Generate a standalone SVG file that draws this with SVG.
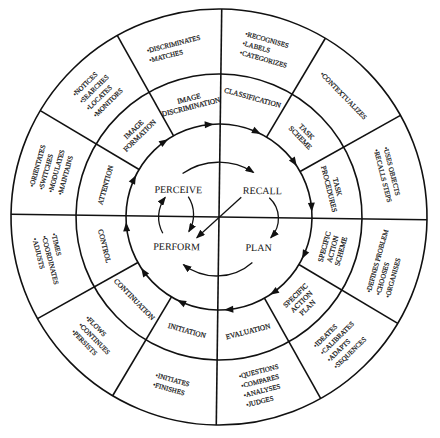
<svg xmlns="http://www.w3.org/2000/svg" width="440" height="438" viewBox="0 0 440 438">
<style>
.ln{stroke:#111;stroke-width:1.6;fill:none}
.th{stroke:#111;stroke-width:1.3;fill:none}
.ah{fill:#111;stroke:none}
text{font-family:"Liberation Serif","DejaVu Serif",serif;fill:#111}
.m{font-size:7.3px;text-anchor:middle;stroke:#111;stroke-width:0.2}
.o{font-size:6.9px;stroke:#111;stroke-width:0.2}
.oc{font-size:6.9px;text-anchor:middle;stroke:#111;stroke-width:0.2}
.c{font-size:10px;text-anchor:middle}
</style>
<defs>
<marker id="arr" markerUnits="userSpaceOnUse" markerWidth="9" markerHeight="7" refX="8" refY="3.5" orient="auto">
<path d="M0,0 L9,3.5 L0,7 z" fill="#111"/>
</marker>
<path id="ah" d="M219,124 l-9,-3.5 l0,7 z"/>
</defs>
<rect width="440" height="438" fill="#fff"/>
<g transform="rotate(0.75 219 217)">
<g id="connectors">
<circle class="ln" cx="219" cy="217" r="208"/>
<circle class="ln" cx="219" cy="217" r="143"/>
<circle class="ln" cx="219" cy="217" r="93"/>
<line class="ln" x1="219" y1="9" x2="219" y2="425"/>
<line class="ln" x1="11" y1="217" x2="427" y2="217"/>
<line class="ln" x1="265.5" y1="136.5" x2="323" y2="36.9"/>
<line class="ln" x1="299.5" y1="170.5" x2="399.1" y2="113"/>
<line class="ln" x1="299.5" y1="263.5" x2="399.1" y2="321"/>
<line class="ln" x1="265.5" y1="297.5" x2="323" y2="397.1"/>
<line class="ln" x1="172.5" y1="297.5" x2="115" y2="397.1"/>
<line class="ln" x1="138.5" y1="263.5" x2="38.9" y2="321"/>
<line class="ln" x1="138.5" y1="170.5" x2="38.9" y2="113"/>
<line class="ln" x1="172.5" y1="136.5" x2="115" y2="36.9"/>
<use href="#ah" class="ah" transform="rotate(-4 219 217)"/>
<use href="#ah" class="ah" transform="rotate(26 219 217)"/>
<use href="#ah" class="ah" transform="rotate(56 219 217)"/>
<use href="#ah" class="ah" transform="rotate(86 219 217)"/>
<use href="#ah" class="ah" transform="rotate(116 219 217)"/>
<use href="#ah" class="ah" transform="rotate(146 219 217)"/>
<use href="#ah" class="ah" transform="rotate(176 219 217)"/>
<use href="#ah" class="ah" transform="rotate(206 219 217)"/>
<use href="#ah" class="ah" transform="rotate(236 219 217)"/>
<use href="#ah" class="ah" transform="rotate(266 219 217)"/>
<use href="#ah" class="ah" transform="rotate(296 219 217)"/>
<use href="#ah" class="ah" transform="rotate(326 219 217)"/>
<path class="th" d="M182,174 A64,64 0 0 1 253,172" marker-end="url(#arr)"/>
<path class="th" d="M269,197 A28,28 0 0 1 271,237" marker-end="url(#arr)"/>
<path class="th" d="M253,262 A54,54 0 0 1 184,265" marker-end="url(#arr)"/>
<path class="th" d="M188,197 A33,33 0 0 1 189,232" marker-end="url(#arr)"/>
<path class="th" d="M163,234 A33,33 0 0 1 165,198" marker-end="url(#arr)"/>
<path class="th" d="M241,197 L197,238" marker-end="url(#arr)"/>
</g>
<g id="perceive"><text class="c" x="178" y="193.5">PERCEIVE</text></g>
<g id="recall"><text class="c" x="262" y="193.5">RECALL</text></g>
<g id="perform"><text class="c" x="177" y="250.5">PERFORM</text></g>
<g id="plan"><text class="c" x="259" y="250.5">PLAN</text></g>

<g id="image-discrimination" transform="rotate(-15 219 217)"><text class="m" x="219" y="97.2">IMAGE</text><text class="m" x="219" y="105.8">DISCRIMINATION</text></g>
<g id="classification" transform="rotate(15 219 217)"><text class="m" x="219" y="95.5">CLASSIFICATION</text></g>
<g id="task-scheme" transform="rotate(45 219 217)"><text class="m" x="219" y="97.2">TASK</text><text class="m" x="219" y="105.8">SCHEME</text></g>
<g id="task-procedures" transform="rotate(75 219 217)"><text class="m" x="219" y="97.2">TASK</text><text class="m" x="219" y="105.8">PROCEDURES</text></g>
<g id="specific-action-scheme" transform="rotate(-75 219 217)"><text class="m" x="219" y="328.9">SPECIFIC</text><text class="m" x="219" y="337.5">ACTION</text><text class="m" x="219" y="346.1">SCHEME</text></g>
<g id="specific-action-plan" transform="rotate(-45 219 217)"><text class="m" x="219" y="328.9">SPECIFIC</text><text class="m" x="219" y="337.5">ACTION</text><text class="m" x="219" y="346.1">PLAN</text></g>
<g id="evaluation" transform="rotate(-15 219 217)"><text class="m" x="219" y="337.5">EVALUATION</text></g>
<g id="initiation" transform="rotate(15 219 217)"><text class="m" x="219" y="337.5">INITIATION</text></g>
<g id="continuation" transform="rotate(45 219 217)"><text class="m" x="219" y="337.5">CONTINUATION</text></g>
<g id="control" transform="rotate(75 219 217)"><text class="m" x="219" y="337.5">CONTROL</text></g>
<g id="attention" transform="rotate(-75 219 217)"><text class="m" x="219" y="101.5">ATTENTION</text></g>
<g id="image-formation" transform="rotate(-45 219 217)"><text class="m" x="219" y="97.2">IMAGE</text><text class="m" x="219" y="105.8">FORMATION</text></g>

<g id="discriminates" transform="rotate(-15 219 217)"><text class="o" x="190" y="40.5">•DISCRIMINATES</text><text class="o" x="190" y="50.3">•MATCHES</text></g>
<g id="recognises" transform="rotate(15 219 217)"><text class="o" x="194.5" y="35.6">•RECOGNISES</text><text class="o" x="194.5" y="45.4">•LABELS</text><text class="o" x="194.5" y="55.2">•CATEGORIZES</text></g>
<g id="contextualizes" transform="rotate(45 219 217)"><text class="oc" x="219" y="45.4">•CONTEXTUALIZES</text></g>
<g id="uses-objects" transform="rotate(75 219 217)"><text class="o" x="192" y="40.5">•USES OBJECTS</text><text class="o" x="192" y="50.3">•RECALLS STEPS</text></g>
<g id="defines-problem" transform="rotate(-75 219 217)"><text class="o" x="187" y="383.6">•DEFINES PROBLEM</text><text class="o" x="187" y="393.4">•CHOOSES</text><text class="o" x="187" y="403.2">•ORGANISES</text></g>
<g id="ideates" transform="rotate(-45 219 217)"><text class="o" x="197" y="378.7">•IDEATES</text><text class="o" x="197" y="388.5">•CALIBRATES</text><text class="o" x="197" y="398.3">•ADAPTS</text><text class="o" x="197" y="408.1">•SEQUENCES</text></g>
<g id="questions" transform="rotate(-15 219 217)"><text class="o" x="199" y="378.7">•QUESTIONS</text><text class="o" x="199" y="388.5">•COMPARES</text><text class="o" x="199" y="398.3">•ANALYSES</text><text class="o" x="199" y="408.1">•JUDGES</text></g>
<g id="initiates" transform="rotate(15 219 217)"><text class="o" x="201" y="388.5">•INITIATES</text><text class="o" x="201" y="398.3">•FINISHES</text></g>
<g id="flows" transform="rotate(45 219 217)"><text class="o" x="198.5" y="383.6">•FLOWS</text><text class="o" x="198.5" y="393.4">•CONTINUES</text><text class="o" x="198.5" y="403.2">•PERSISTS</text></g>
<g id="times" transform="rotate(75 219 217)"><text class="o" x="194" y="383.6">•TIMES</text><text class="o" x="194" y="393.4">•COORDINATES</text><text class="o" x="194" y="403.2">•ADJUSTS</text></g>
<g id="orientates" transform="rotate(-75 219 217)"><text class="o" x="197" y="30.7">•ORIENTATES</text><text class="o" x="197" y="40.5">•SWITCHES</text><text class="o" x="197" y="50.3">•MODULATES</text><text class="o" x="197" y="60.1">•MAINTAINS</text></g>
<g id="notices" transform="rotate(-45 219 217)"><text class="o" x="200" y="30.7">•NOTICES</text><text class="o" x="200" y="40.5">•SEARCHES</text><text class="o" x="200" y="50.3">•LOCATES</text><text class="o" x="200" y="60.1">•MONITORS</text></g>
</g>
</svg>
